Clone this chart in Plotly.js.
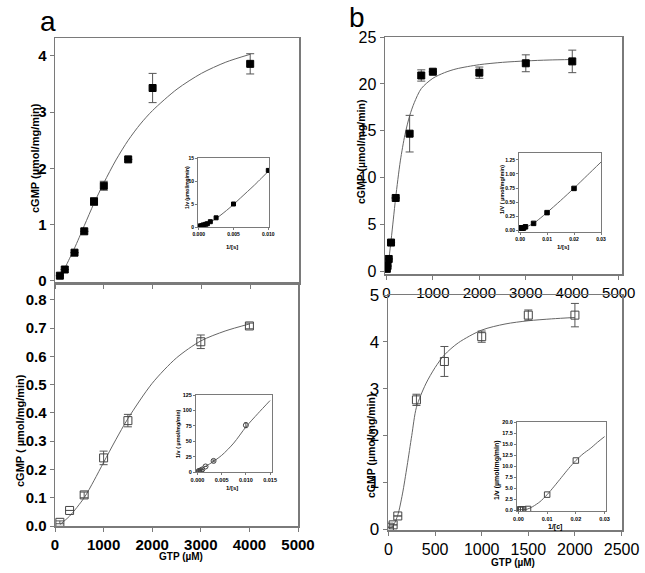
<!DOCTYPE html>
<html>
<head>
<meta charset="utf-8">
<script src="https://cdn.plot.ly/plotly-3.0.1.min.js"></script>
<style>html,body{margin:0;padding:0;background:#fff;}#chart{width:645px;height:573px;}</style>
</head>
<body>
<div id="chart"></div>
<script>
// ---------- Data ----------
// Panel a, top (filled squares)
const aTopX = [100, 200, 400, 600, 800, 1000, 1500, 2000, 4000];
const aTopY = [0.09, 0.20, 0.50, 0.88, 1.41, 1.69, 2.16, 3.43, 3.86];
const aTopErr = [0, 0, 0, 0, 0.07, 0.08, 0, 0.26, 0.18];
const aTopFitX = [100, 200, 300, 400, 600, 800, 1000, 1250, 1500, 1750, 2000, 2500, 3000, 3500, 4000];
const aTopFitY = [0.06, 0.22, 0.40, 0.58, 0.98, 1.38, 1.74, 2.15, 2.50, 2.79, 3.03, 3.41, 3.69, 3.89, 4.03];
// Panel a, top inset
const aInTopX = [0.010, 0.005, 0.0025, 0.00167, 0.00125, 0.001, 0.00067, 0.0005, 0.00025];
const aInTopY = [12.3, 5.0, 2.0, 1.15, 0.71, 0.59, 0.46, 0.29, 0.26];
const aInTopFitX = [0, 0.001, 0.002, 0.003, 0.004, 0.005, 0.006, 0.007, 0.008, 0.009, 0.010];
const aInTopFitY = [0.15, 0.55, 1.35, 2.4, 3.6, 4.9, 6.3, 7.7, 9.1, 10.6, 12.1];
// Panel a, bottom (open squares)
const aBotX = [100, 300, 600, 1000, 1500, 3000, 4000];
const aBotY = [0.013, 0.055, 0.11, 0.241, 0.373, 0.652, 0.708];
const aBotErr = [0.005, 0, 0.01, 0.024, 0.022, 0.024, 0.01];
const aBotFitX = [100, 300, 600, 800, 1000, 1250, 1500, 2000, 2500, 3000, 3500, 4000];
const aBotFitY = [0.005, 0.035, 0.10, 0.16, 0.225, 0.305, 0.38, 0.505, 0.595, 0.655, 0.69, 0.715];
// Panel a, bottom inset
const aInBotX = [0.010, 0.00333, 0.00167, 0.001, 0.00067, 0.00033, 0.00025];
const aInBotY = [76, 18, 9, 4.2, 2.7, 1.5, 1.4];
const aInBotErr = [4, 1.5, 0, 0, 0, 0, 0];
const aInBotFitX = [0, 0.0025, 0.005, 0.0075, 0.010, 0.0125, 0.015];
const aInBotFitY = [2, 13, 27, 47, 73, 95, 116];
// Panel b, top (filled squares)
const bTopX = [10, 25, 50, 100, 200, 500, 750, 1000, 2000, 3000, 4000];
const bTopY = [0.3, 0.6, 1.35, 3.1, 7.85, 14.7, 20.9, 21.3, 21.2, 22.2, 22.4];
const bTopErr = [0, 0, 0, 0, 0, 1.95, 0.6, 0, 0.6, 0.9, 1.2];
const bTopFitX = [0, 25, 50, 100, 150, 200, 300, 400, 500, 600, 750, 1000, 1250, 1500, 2000, 2500, 3000, 3500, 4000];
const bTopFitY = [0, 0.4, 1.2, 3.3, 5.6, 7.9, 11.8, 14.6, 16.6, 18.0, 19.5, 20.6, 21.2, 21.6, 22.05, 22.3, 22.45, 22.55, 22.6];
// Panel b, top inset
const bInTopX = [0.02, 0.01, 0.005, 0.002, 0.00133, 0.001, 0.0005, 0.00033, 0.00025];
const bInTopY = [0.745, 0.318, 0.128, 0.068, 0.048, 0.047, 0.047, 0.045, 0.044];
const bInTopFitX = [0, 0.0025, 0.005, 0.0075, 0.01, 0.015, 0.02, 0.025, 0.03];
const bInTopFitY = [0.04, 0.07, 0.13, 0.22, 0.32, 0.53, 0.75, 0.98, 1.21];
// Panel b, bottom (open squares)
const bBotX = [10, 50, 100, 300, 600, 1000, 1500, 2000];
const bBotY = [0.04, 0.09, 0.28, 2.76, 3.58, 4.11, 4.57, 4.57];
const bBotErr = [0, 0, 0, 0.12, 0.32, 0.12, 0.11, 0.25];
const bBotFitX = [0, 50, 100, 150, 200, 250, 300, 400, 500, 600, 750, 1000, 1250, 1500, 1750, 2000];
const bBotFitY = [0, 0.07, 0.3, 0.75, 1.35, 2.0, 2.6, 3.1, 3.45, 3.72, 3.98, 4.25, 4.38, 4.45, 4.49, 4.52];
// Panel b, bottom inset
const bInBotX = [0.02, 0.01, 0.00333, 0.00167, 0.001, 0.00067, 0.0005];
const bInBotY = [11.3, 3.6, 0.36, 0.28, 0.24, 0.22, 0.22];
const bInBotFitX = [0, 0.003, 0.005, 0.0075, 0.01, 0.0125, 0.015, 0.0175, 0.02, 0.0225, 0.025, 0.0275, 0.03];
const bInBotFitY = [0.2, 0.3, 0.9, 2.0, 3.6, 5.5, 7.5, 9.5, 11.3, 12.8, 14.0, 15.4, 16.7];

// ---------- Layout helpers ----------
const W = 645, H = 573;
const FONT = 'Liberation Sans, Arial, sans-serif';
const AXC = '#7a7a7a';
const dx = (l, r) => [l / W, r / W];
const dy = (t, b) => [1 - b / H, 1 - t / H];

function axis(domain, range, dtick, opts) {
  return Object.assign({
    domain: domain, range: range, dtick: dtick, tick0: 0,
    showgrid: false, zeroline: false, showline: true, mirror: true,
    linecolor: AXC, linewidth: opts.lw || 1.5,
    ticks: 'outside', ticklen: opts.tl || 4, tickwidth: 1, tickcolor: AXC,
    tickfont: {family: FONT, size: opts.fs, color: '#000', weight: opts.bold ? 'bold' : 'normal'},
    showticklabels: opts.labels !== false,
    tickformat: opts.fmt || '', fixedrange: true
  }, opts.extra || {});
}

function fit(x, y, xa, ya) {
  return {x: x, y: y, xaxis: xa, yaxis: ya, type: 'scatter', mode: 'lines',
    line: {color: '#666', width: 1, shape: 'spline', smoothing: 0.8}, hoverinfo: 'skip'};
}
function pts(x, y, err, xa, ya, sym, size, ew) {
  const t = {x: x, y: y, xaxis: xa, yaxis: ya, type: 'scatter', mode: 'markers',
    marker: {symbol: sym, size: size, color: sym.indexOf('open') >= 0 ? '#444' : '#000',
      line: {width: 1, color: sym.indexOf('open') >= 0 ? '#444' : '#000'}}};
  if (err) t.error_y = {type: 'data', array: err, visible: true, color: '#555', thickness: 1, width: ew};
  return t;
}

const data = [
  fit(aTopFitX, aTopFitY, 'x', 'y'), pts(aTopX, aTopY, aTopErr, 'x', 'y', 'square', 7, 4),
  fit(aBotFitX, aBotFitY, 'x2', 'y2'), pts(aBotX, aBotY, aBotErr, 'x2', 'y2', 'square-open', 8, 4),
  fit(bTopFitX, bTopFitY, 'x3', 'y3'), pts(bTopX, bTopY, bTopErr, 'x3', 'y3', 'square', 7, 4),
  fit(bBotFitX, bBotFitY, 'x4', 'y4'), pts(bBotX, bBotY, bBotErr, 'x4', 'y4', 'square-open', 8, 4),
  fit(aInTopFitX, aInTopFitY, 'x5', 'y5'), pts(aInTopX, aInTopY, null, 'x5', 'y5', 'square', 4),
  fit(aInBotFitX, aInBotFitY, 'x6', 'y6'), pts(aInBotX, aInBotY, aInBotErr, 'x6', 'y6', 'circle-open', 5, 1.5),
  fit(bInTopFitX, bInTopFitY, 'x7', 'y7'), pts(bInTopX, bInTopY, null, 'x7', 'y7', 'square', 4.5),
  fit(bInBotFitX, bInBotFitY, 'x8', 'y8'), pts(bInBotX, bInBotY, null, 'x8', 'y8', 'square-open', 5.5)
];

function ann(text, xp, yp, size, opts) {
  opts = opts || {};
  return {text: text, xref: 'paper', yref: 'paper', x: xp / W, y: 1 - yp / H,
    xanchor: 'center', yanchor: 'middle', showarrow: false, textangle: opts.rot || 0,
    font: {family: FONT, size: size, color: '#000', weight: opts.bold === false ? 'normal' : 'bold'}};
}

const layout = {
  width: W, height: H, margin: {l: 0, r: 0, t: 0, b: 0},
  paper_bgcolor: '#fff', plot_bgcolor: 'rgba(0,0,0,0)', showlegend: false,
  // main panels
  xaxis: axis(dx(55, 299), [0, 5000], 1000, {fs: 15, bold: true, labels: false, extra: {anchor: 'y'}}),
  yaxis: axis(dy(38, 283), [-0.04, 4.32], 1, {fs: 15, bold: true, extra: {anchor: 'x'}}),
  xaxis2: axis(dx(55, 298), [0, 5000], 1000, {fs: 15, bold: true, extra: {anchor: 'y2'}}),
  yaxis2: axis(dy(283, 526), [0, 0.86], 0.1, {fs: 15, bold: true, fmt: '.1f', extra: {anchor: 'x2'}}),
  xaxis3: axis(dx(385, 622), [-30, 5070], 1000, {fs: 15, extra: {anchor: 'y3'}}),
  yaxis3: axis(dy(37, 274), [-0.25, 25], 5, {fs: 16, extra: {anchor: 'x3'}}),
  xaxis4: axis(dx(388, 622), [-5, 2505], 500, {fs: 16, extra: {anchor: 'y4'}}),
  yaxis4: axis(dy(295, 530), [-0.02, 5], 1, {fs: 17, extra: {anchor: 'x4'}}),
  // insets
  xaxis5: axis(dx(198, 269), [-0.0001, 0.0101], 0.005, {fs: 5, bold: true, fmt: '.3f', lw: 1, tl: 2, extra: {anchor: 'y5'}}),
  yaxis5: axis(dy(158, 227), [0, 15], 5, {fs: 5, bold: true, lw: 1, tl: 2, extra: {anchor: 'x5'}}),
  xaxis6: axis(dx(196, 272), [-0.0003, 0.0154], 0.005, {fs: 5.5, bold: true, fmt: '.3f', lw: 1, tl: 2, extra: {anchor: 'y6'}}),
  yaxis6: axis(dy(395, 472), [0, 125], 25, {fs: 5.5, bold: true, lw: 1, tl: 2, extra: {anchor: 'x6'}}),
  xaxis7: axis(dx(519, 601), [-0.0004, 0.030], 0.01, {fs: 5, bold: true, fmt: '.2f', lw: 1, tl: 2, extra: {anchor: 'y7'}}),
  yaxis7: axis(dy(153, 231.5), [-0.015, 1.37], 0.25, {fs: 5, bold: true, fmt: '.2f', lw: 1, tl: 2, extra: {anchor: 'x7'}}),
  xaxis8: axis(dx(517, 606), [-0.0005, 0.0305], 0.01, {fs: 5.5, bold: true, fmt: '.2f', lw: 1, tl: 2, extra: {anchor: 'y8'}}),
  yaxis8: axis(dy(422, 511), [-0.1, 20], 2.5, {fs: 5.5, bold: true, fmt: '.1f', lw: 1, tl: 2, extra: {anchor: 'x8'}}),
  annotations: [
    ann('a', 48, 22, 28, {bold: false}),
    ann('b', 357, 17, 28, {bold: false}),
    ann('cGMP (µmol/mg/min)', 35, 158, 11, {rot: -90}),
    ann('cGMP ( µmol/mg/min)', 20, 431, 11, {rot: -90}),
    ann('cGMP (µmol/mg/min)', 361, 152, 10.5, {rot: -90}),
    ann('cGMP (µmol/mg/min)', 371, 446, 10.5, {rot: -90}),
    ann('GTP (µM)', 181, 556, 10),
    ann('GTP (µM)', 513, 562, 10),
    ann('1/v (µmol/mg/min)', 187, 188, 5, {rot: -90}),
    ann('1/[s]', 232, 247, 6),
    ann('1/v ( µmol/mg/min)', 178, 434, 5.5, {rot: -90}),
    ann('1/[s]', 232, 488, 6),
    ann('1/V ( µmol/mg/min)', 502, 190, 5.5, {rot: -90}),
    ann('1/[s]', 563, 247, 6),
    ann('1/v (µmol/mg/min)', 497, 470, 7, {rot: -90}),
    ann('1/[c]', 555, 527, 7)
  ]
};

Plotly.newPlot('chart', data, layout, {staticPlot: true, displayModeBar: false});
</script>
</body>
</html>
